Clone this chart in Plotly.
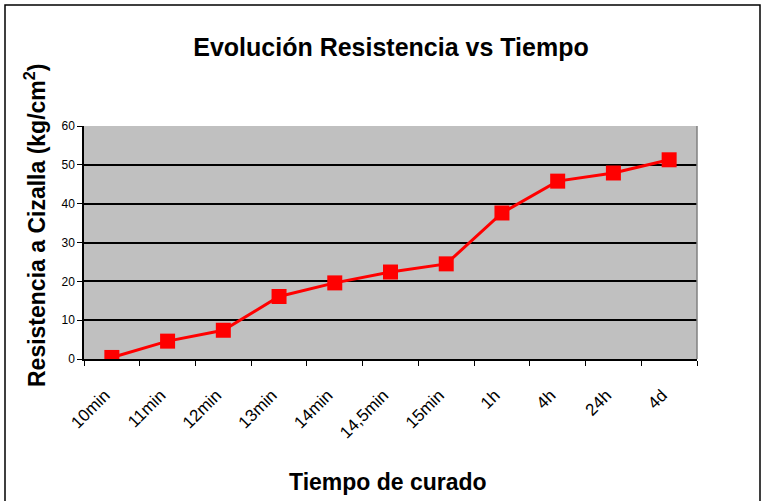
import plotly.graph_objects as go

categories = ["10min", "11min", "12min", "13min", "14min", "14,5min", "15min", "1h", "4h", "24h", "4d"]
resistencia = [0.4, 4.6, 7.4, 16.1, 19.6, 22.4, 24.5, 37.6, 45.8, 47.9, 51.3]
y_ticks = [0, 10, 20, 30, 40, 50, 60]

fig = go.Figure()
fig.add_trace(go.Scatter(
    x=categories, y=resistencia, mode="lines+markers",
    line=dict(color="#FF0000", width=3),
    marker=dict(symbol="square", size=15, color="#FF0000"),
    showlegend=False,
))

W, H = 764, 501
L, R, T, B = 84, 697, 126, 359
pw, ph = R - L, B - T

def px(x):
    return (x - L) / pw

def py(y):
    return (B - y) / ph

fig.update_layout(
    width=W, height=H,
    margin=dict(l=L, r=W - R, t=T, b=H - B, autoexpand=False),
    paper_bgcolor="white",
    plot_bgcolor="#C0C0C0",
    font=dict(family="Liberation Sans, Arial, sans-serif", color="black"),
    title=dict(text="<b>Evolución Resistencia vs Tiempo</b>", x=px(391), xanchor="center",
               xref="paper", y=1 - 47 / H, yanchor="middle", font=dict(size=25)),
    xaxis=dict(
        type="category", tickangle=-45, tickfont=dict(size=17),
        showline=True, linecolor="black", linewidth=1.5,
        ticks="outside", ticklen=5, tickcolor="black", tickson="boundaries",
        ticklabelstandoff=18, ticklabelshift=-7,
        showgrid=False, mirror=False, range=[-0.5, 10.5], automargin=False,
    ),
    yaxis=dict(
        range=[0, 60], tickvals=y_ticks, tickfont=dict(size=12),
        showline=True, linecolor="black", linewidth=1.5,
        ticks="outside", ticklen=5, tickcolor="black",
        showgrid=True, gridcolor="black", gridwidth=1.5, zeroline=False, automargin=False,
    ),
    shapes=[
        dict(type="line", xref="paper", yref="paper", x0=1, x1=1, y0=0, y1=1,
             line=dict(color="#808080", width=1.5)),
        dict(type="rect", xref="paper", yref="paper", x0=px(5), x1=px(760),
             y0=py(520), y1=py(5), line=dict(color="black", width=1.5)),
    ],
    annotations=[
        dict(text="<b>Resistencia a Cizalla (kg/cm<sup>2</sup>)</b>", textangle=-90,
             xref="paper", yref="paper", x=px(35), y=py(226), showarrow=False,
             xanchor="center", yanchor="middle", font=dict(size=23)),
        dict(text="<b>Tiempo de curado</b>", xref="paper", yref="paper",
             x=px(388), y=py(482), showarrow=False, xanchor="center", yanchor="middle",
             font=dict(size=23)),
    ],
)

fig.write_html("out.html", config={"displayModeBar": False},
               post_script="document.body.style.margin='0';document.body.style.overflow='hidden';")
